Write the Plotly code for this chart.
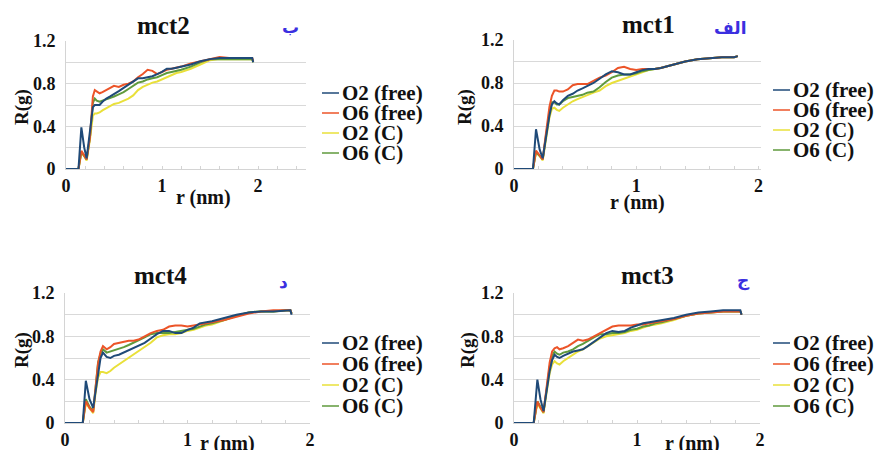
import plotly.graph_objects as go

# ---------------- data ----------------
series_names = ["O2 (free)", "O6 (free)", "O2 (C)", "O6 (C)"]
series_colors = ["#1f4a78", "#ec5428", "#e9e03a", "#5f9a3c"]

# mct2
r_mct2 = [0, 0.13, 0.16, 0.19, 0.215, 0.25, 0.28, 0.30, 0.32, 0.35, 0.38, 0.42, 0.46, 0.50,
          0.55, 0.60, 0.65, 0.70, 0.75, 0.80, 0.85, 0.90, 0.95, 1.00, 1.05, 1.10, 1.15, 1.20,
          1.30, 1.40, 1.50, 1.60, 1.70, 1.80, 1.90, 1.94, 1.95]
mct2_o2_free = [0, 0, 0.39, 0.20, 0.10, 0.35, 0.58, 0.60, 0.60, 0.60, 0.63, 0.66, 0.68, 0.70,
                0.73, 0.76, 0.79, 0.82, 0.85, 0.85, 0.86, 0.87, 0.89, 0.91, 0.94, 0.94, 0.95, 0.96,
                0.98, 1.01, 1.03, 1.04, 1.04, 1.04, 1.04, 1.04, 1.00]
mct2_o6_free = [0, 0, 0.17, 0.13, 0.09, 0.30, 0.68, 0.74, 0.73, 0.71, 0.72, 0.74, 0.76, 0.78,
                0.77, 0.79, 0.80, 0.82, 0.86, 0.89, 0.93, 0.92, 0.89, 0.91, 0.93, 0.94, 0.95, 0.96,
                0.99, 1.01, 1.03, 1.05, 1.04, 1.04, 1.04, 1.04, 1.01]
mct2_o2_c = [0, 0, 0.15, 0.12, 0.08, 0.28, 0.50, 0.52, 0.52, 0.53, 0.55, 0.57, 0.59, 0.61,
             0.62, 0.64, 0.66, 0.69, 0.74, 0.77, 0.79, 0.81, 0.82, 0.84, 0.86, 0.88, 0.90, 0.91,
             0.94, 0.98, 1.02, 1.03, 1.03, 1.03, 1.03, 1.03, 1.00]
mct2_o6_c = [0, 0, 0.16, 0.12, 0.09, 0.30, 0.62, 0.66, 0.64, 0.63, 0.64, 0.65, 0.66, 0.68,
             0.70, 0.72, 0.75, 0.78, 0.81, 0.82, 0.84, 0.85, 0.86, 0.88, 0.90, 0.91, 0.92, 0.93,
             0.96, 1.00, 1.03, 1.03, 1.03, 1.03, 1.03, 1.03, 1.00]

# mct1
r_mct1 = [0, 0.155, 0.18, 0.21, 0.235, 0.26, 0.29, 0.31, 0.33, 0.35, 0.37, 0.40, 0.44, 0.48,
          0.52, 0.56, 0.60, 0.65, 0.70, 0.75, 0.80, 0.85, 0.90, 0.95, 1.00, 1.05, 1.10, 1.15,
          1.20, 1.30, 1.40, 1.50, 1.60, 1.70, 1.80, 1.83]
mct1_o2_free = [0, 0, 0.37, 0.18, 0.10, 0.30, 0.50, 0.60, 0.63, 0.61, 0.60, 0.64, 0.68, 0.70,
                0.73, 0.75, 0.77, 0.80, 0.84, 0.88, 0.91, 0.90, 0.88, 0.88, 0.90, 0.92, 0.93, 0.93,
                0.94, 0.97, 1.00, 1.02, 1.03, 1.04, 1.04, 1.05]
mct1_o6_free = [0, 0, 0.17, 0.13, 0.09, 0.32, 0.58, 0.68, 0.73, 0.73, 0.72, 0.72, 0.74, 0.78,
                0.79, 0.79, 0.79, 0.82, 0.85, 0.87, 0.90, 0.94, 0.95, 0.93, 0.92, 0.93, 0.93, 0.93,
                0.94, 0.97, 1.00, 1.02, 1.03, 1.04, 1.04, 1.05]
mct1_o2_c = [0, 0, 0.15, 0.12, 0.08, 0.28, 0.48, 0.56, 0.57, 0.55, 0.54, 0.57, 0.60, 0.63,
             0.65, 0.67, 0.69, 0.71, 0.73, 0.77, 0.80, 0.82, 0.84, 0.86, 0.88, 0.90, 0.92, 0.93,
             0.94, 0.97, 1.00, 1.02, 1.03, 1.04, 1.04, 1.05]
mct1_o6_c = [0, 0, 0.16, 0.12, 0.09, 0.30, 0.52, 0.62, 0.62, 0.60, 0.60, 0.63, 0.66, 0.67,
             0.68, 0.69, 0.71, 0.72, 0.76, 0.81, 0.85, 0.87, 0.88, 0.88, 0.89, 0.91, 0.92, 0.93,
             0.94, 0.97, 1.00, 1.02, 1.03, 1.04, 1.04, 1.05]

# mct4
r_mct4 = [0, 0.145, 0.17, 0.20, 0.23, 0.25, 0.27, 0.29, 0.31, 0.34, 0.37, 0.40, 0.44, 0.48,
          0.52, 0.56, 0.60, 0.65, 0.70, 0.75, 0.80, 0.85, 0.90, 0.95, 1.00, 1.05, 1.10, 1.15,
          1.20, 1.30, 1.40, 1.50, 1.60, 1.70, 1.80, 1.84, 1.85]
mct4_o2_free = [0, 0, 0.39, 0.22, 0.14, 0.30, 0.48, 0.60, 0.65, 0.61, 0.60, 0.62, 0.63, 0.65,
                0.67, 0.69, 0.71, 0.74, 0.78, 0.82, 0.85, 0.85, 0.83, 0.83, 0.86, 0.88, 0.92, 0.93,
                0.94, 0.97, 1.00, 1.02, 1.03, 1.03, 1.04, 1.04, 1.00]
mct4_o6_free = [0, 0, 0.20, 0.14, 0.10, 0.30, 0.55, 0.66, 0.71, 0.68, 0.70, 0.73, 0.74, 0.75,
                0.76, 0.76, 0.77, 0.80, 0.83, 0.85, 0.86, 0.89, 0.90, 0.90, 0.89, 0.90, 0.91, 0.92,
                0.93, 0.95, 0.98, 1.01, 1.03, 1.04, 1.04, 1.04, 1.01]
mct4_o2_c = [0, 0, 0.18, 0.13, 0.09, 0.28, 0.42, 0.47, 0.47, 0.46, 0.48, 0.51, 0.54, 0.57,
             0.60, 0.63, 0.66, 0.70, 0.74, 0.79, 0.81, 0.82, 0.82, 0.83, 0.85, 0.86, 0.88, 0.90,
             0.91, 0.95, 0.99, 1.02, 1.03, 1.03, 1.04, 1.04, 1.01]
mct4_o6_c = [0, 0, 0.22, 0.15, 0.11, 0.32, 0.56, 0.64, 0.68, 0.65, 0.66, 0.67, 0.68, 0.70,
             0.72, 0.74, 0.76, 0.79, 0.82, 0.83, 0.83, 0.83, 0.84, 0.85, 0.86, 0.87, 0.89, 0.91,
             0.92, 0.95, 0.99, 1.02, 1.03, 1.03, 1.04, 1.04, 1.01]

# mct3
r_mct3 = [0, 0.16, 0.19, 0.215, 0.24, 0.265, 0.29, 0.31, 0.33, 0.35, 0.37, 0.40, 0.44, 0.48,
          0.52, 0.56, 0.60, 0.65, 0.70, 0.75, 0.80, 0.85, 0.90, 0.95, 1.00, 1.05, 1.10, 1.15,
          1.20, 1.30, 1.40, 1.50, 1.60, 1.70, 1.80, 1.84, 1.85]
mct3_o2_free = [0, 0, 0.40, 0.22, 0.11, 0.30, 0.48, 0.58, 0.63, 0.61, 0.60, 0.62, 0.64, 0.66,
                0.67, 0.68, 0.71, 0.75, 0.79, 0.83, 0.85, 0.84, 0.85, 0.88, 0.90, 0.92, 0.93, 0.94,
                0.95, 0.97, 1.00, 1.02, 1.03, 1.04, 1.04, 1.04, 1.00]
mct3_o6_free = [0, 0, 0.20, 0.14, 0.10, 0.32, 0.56, 0.66, 0.69, 0.70, 0.68, 0.69, 0.71, 0.74,
                0.77, 0.76, 0.77, 0.80, 0.83, 0.86, 0.89, 0.90, 0.90, 0.90, 0.91, 0.91, 0.92, 0.93,
                0.94, 0.96, 0.99, 1.01, 1.02, 1.03, 1.03, 1.03, 1.00]
mct3_o2_c = [0, 0, 0.18, 0.13, 0.09, 0.28, 0.46, 0.54, 0.57, 0.55, 0.54, 0.57, 0.60, 0.63,
             0.66, 0.68, 0.71, 0.74, 0.78, 0.80, 0.81, 0.82, 0.83, 0.85, 0.86, 0.88, 0.90, 0.91,
             0.92, 0.95, 0.99, 1.01, 1.02, 1.03, 1.03, 1.03, 1.00]
mct3_o6_c = [0, 0, 0.20, 0.15, 0.10, 0.31, 0.52, 0.62, 0.66, 0.64, 0.63, 0.65, 0.66, 0.68,
             0.71, 0.73, 0.76, 0.79, 0.82, 0.82, 0.83, 0.83, 0.84, 0.86, 0.87, 0.89, 0.90, 0.92,
             0.93, 0.96, 0.99, 1.01, 1.02, 1.03, 1.03, 1.03, 1.00]

panel_titles = ["mct2", "mct1", "mct4", "mct3"]
panel_letters = ["ب", "الف", "د", "ج"]
y_tick_values = [0, 0.2, 0.4, 0.6, 0.8, 1.0, 1.2]
y_tick_labels = ["0", "", "0.4", "", "0.8", "", "1.2"]
x_tick_values = [0, 1, 2]
x_tick_labels = ["0", "1", "2"]

panel_data = [
    (r_mct2, [mct2_o2_free, mct2_o6_free, mct2_o2_c, mct2_o6_c]),
    (r_mct1, [mct1_o2_free, mct1_o6_free, mct1_o2_c, mct1_o6_c]),
    (r_mct4, [mct4_o2_free, mct4_o6_free, mct4_o2_c, mct4_o6_c]),
    (r_mct3, [mct3_o2_free, mct3_o6_free, mct3_o2_c, mct3_o6_c]),
]

# ---------------- layout geometry (pixels in an 875 x 450 page) ----------------
W, H = 875, 450
SERIF = "Liberation Serif"


def fx(p):
    return p / W


def fy(p):
    return 1 - p / H


panels = [
    dict(x=(66, 306), y=(41, 169), xmax=2.5, title=(163, 25), letter=(290, 27),
         xtitle=(203, 198), ytitle=(22, 107), legend=(322, [93, 113, 133, 153])),
    dict(x=(514, 761), y=(40, 169), xmax=2.02, title=(648, 24), letter=(730, 28),
         xtitle=(637, 202), ytitle=(465, 107), legend=(773, [90, 110, 130, 150])),
    dict(x=(65, 310), y=(293, 423), xmax=2.0, title=(160, 275), letter=(283, 282),
         xtitle=(227, 443), ytitle=(22, 350), legend=(322, [343, 364, 385, 406])),
    dict(x=(514, 760), y=(293, 423), xmax=2.0, title=(647, 275), letter=(743, 280),
         xtitle=(692, 443), ytitle=(468, 350), legend=(773, [343, 364, 385, 406])),
]


def label(x, y, text, size, color="#111", family=SERIF, xanchor="center", angle=0):
    return dict(x=fx(x), y=fy(y), xref="paper", yref="paper", text=text,
                showarrow=False, xanchor=xanchor, yanchor="middle", textangle=angle,
                borderpad=0,
                font=dict(family=family, size=size, color=color, weight="bold"))


fig = go.Figure()
annotations = []
shapes = []
draw_order = [2, 3, 1, 0]

for i, (panel, (r_vals, ys)) in enumerate(zip(panels, panel_data)):
    n = "" if i == 0 else str(i + 1)
    xa, ya = "x" + n, "y" + n
    for k in draw_order:
        fig.add_trace(go.Scatter(
            x=r_vals, y=ys[k], mode="lines", name=series_names[k],
            line=dict(color=series_colors[k], width=2),
            xaxis=xa, yaxis=ya, showlegend=False,
        ))

    fig.update_layout(**{
        "xaxis" + n: dict(
            domain=[fx(panel["x"][0]), fx(panel["x"][1])], anchor=ya,
            range=[0, panel["xmax"]], tickmode="array", tickvals=x_tick_values,
            ticktext=x_tick_labels, showgrid=False, zeroline=False, automargin=False,
            showline=True, linecolor="#d4d4d4", linewidth=1,
            ticks="inside", ticklen=3, tickcolor="#d4d4d4",
            minor=dict(dtick=0.2, tick0=0, ticks="inside", ticklen=3, tickcolor="#d4d4d4"),
            tickfont=dict(family=SERIF, size=18, color="#111", weight="bold"),
            fixedrange=True,
        ),
        "yaxis" + n: dict(
            domain=[fy(panel["y"][1]), fy(panel["y"][0])], anchor=xa,
            range=[0, 1.2], tickmode="array", tickvals=y_tick_values,
            ticktext=y_tick_labels, showgrid=True, gridcolor="#d9d9d9", gridwidth=1,
            zeroline=False, showline=True, linecolor="#d4d4d4", linewidth=1,
            ticks="", ticklabelstandoff=6, automargin=False,
            tickfont=dict(family=SERIF, size=18, color="#111", weight="bold"),
            fixedrange=True,
        ),
    })

    annotations.append(label(*panel["title"], panel_titles[i], 25))
    annotations.append(label(*panel["letter"], panel_letters[i], 17,
                             color="#3b2fe0", family="DejaVu Sans"))
    annotations.append(label(*panel["xtitle"], "r (nm)", 20))
    annotations.append(label(*panel["ytitle"], "R(g)", 19, angle=-90))

    # per-panel key: short coloured stroke followed by the series name
    kx, rows = panel["legend"]
    for k, row_y in enumerate(rows):
        shapes.append(dict(type="line", xref="paper", yref="paper",
                           x0=fx(kx), x1=fx(kx + 17), y0=fy(row_y), y1=fy(row_y),
                           line=dict(color=series_colors[k], width=1.5)))
        annotations.append(label(kx + 19, row_y, series_names[k], 21, xanchor="left"))

fig.update_layout(
    width=W, height=H,
    margin=dict(l=0, r=0, t=0, b=0, autoexpand=False),
    paper_bgcolor="white", plot_bgcolor="white",
    showlegend=False,
    annotations=annotations, shapes=shapes,
)

fig.write_html("out.html", config={"displayModeBar": False})
